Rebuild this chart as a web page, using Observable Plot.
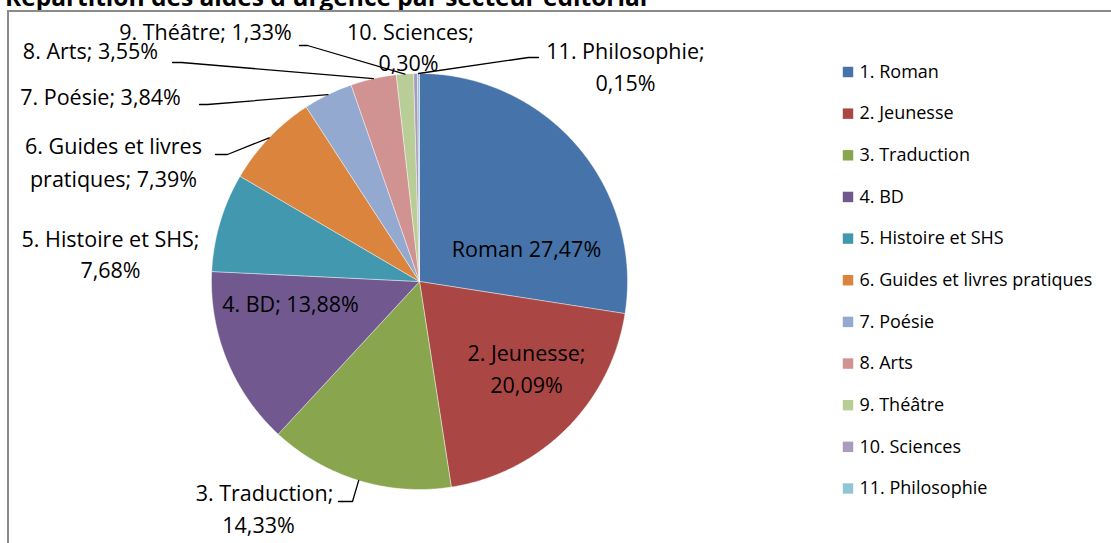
<!DOCTYPE html>
<html><head><meta charset="utf-8">
<script src="https://cdn.jsdelivr.net/npm/d3@7"></script>
<script src="https://cdn.jsdelivr.net/npm/@observablehq/plot@0.6"></script>
<style>
html,body{margin:0;padding:0;background:#fff;overflow:hidden}
#wrap{position:relative;width:1111px;height:543px;overflow:hidden}
#title{position:absolute;left:5px;top:-20px;font:bold 24.5px "Open Sans";line-height:normal;white-space:nowrap;color:#000}
#frame{position:absolute;left:7px;top:10px;width:1200px;height:600px;border-left:2px solid #8a8a8a;border-top:2px solid #8a8a8a}
#chart{position:absolute;left:0;top:0}
</style></head><body>
<div id="wrap"><div id="title">Répartition des aides d'urgence par secteur éditorial</div><div id="frame"></div><div id="chart"></div></div>
<script>
// ---- data ----
const categories = ["1. Roman","2. Jeunesse","3. Traduction","4. BD","5. Histoire et SHS","6. Guides et livres pratiques","7. Poésie","8. Arts","9. Théâtre","10. Sciences","11. Philosophie"];
const shares = [27.47,20.09,14.33,13.88,7.68,7.39,3.84,3.55,1.33,0.30,0.15];
const colors = ["#4673aa","#aa4744","#89a54e","#71588f","#4198af","#db843d","#93a9cf","#d19392","#b9cd96","#a99bbd","#92c5d4"];
// data label lines per slice
const labelLines = [
  ["Roman 27,47%"],
  ["2. Jeunesse;","20,09%"],
  ["3. Traduction;","14,33%"],
  ["4. BD; 13,88%"],
  ["5. Histoire et SHS;","7,68%"],
  ["6. Guides et livres","pratiques; 7,39%"],
  ["7. Poésie; 3,84%"],
  ["8. Arts; 3,55%"],
  ["9. Théâtre; 1,33%"],
  ["10. Sciences;","0,30%"],
  ["11. Philosophie;","0,15%"]
];

// ---- layout ----
const W = 1111, H = 543;
const CX = 419, CY = 281, R = 208;
const FONT = "Open Sans";
// label line centres (layout only)
const labelPos = [
  [[526,250]],
  [[526,354],[526,386]],
  [[264,494],[258,526]],
  [[290,305]],
  [[110,240],[110,271]],
  [[113,147],[113,180]],
  [[100,98]],
  [[90,52]],
  [[205,33]],
  [[410,33],[408,64]],
  [[625,52],[625,84]]
];
// leader line start points (label side), end is computed on the slice edge
const leaderStart = {2:[[338,501],[352,501]],5:[[215,154],[227,154]],6:[[199,104],[207,104]],7:[[172,62],[181,62]],8:[[299,45],[307,45]],10:[[538,57],[528,57]]};
const LEG_X = 847.5, LEG_Y0 = 71.5, LEG_DY = 41.65, LEG_TX = 859;

// ---- geometry from data ----
const arcs = d3.pie().sort(null).value(d => d)(shares);
const pt = (a, r) => [CX + r * Math.sin(a), CY - r * Math.cos(a)];
const slicePts = [];
arcs.forEach((a, i) => {
  const cat = categories[i];
  const n = Math.max(2, Math.ceil((a.endAngle - a.startAngle) / (Math.PI / 360)));
  slicePts.push({cat, x: CX, y: CY});
  for (let k = 0; k <= n; k++) {
    const [x, y] = pt(a.startAngle + (a.endAngle - a.startAngle) * k / n, R);
    slicePts.push({cat, x, y});
  }
  slicePts.push({cat, x: CX, y: CY});
});
const leaderPts = [];
Object.entries(leaderStart).forEach(([i, pts]) => {
  const a = arcs[+i];
  pts.forEach(([x, y]) => leaderPts.push({id: i, x, y}));
  const [x, y] = pt((a.startAngle + a.endAngle) / 2, R);
  leaderPts.push({id: i, x, y});
});
const labelRows = [];
labelLines.forEach((lines, i) => lines.forEach((t, j) => labelRows.push({text: t, x: labelPos[i][j][0], y: labelPos[i][j][1]})));

const chart = Plot.plot({
  width: W, height: H,
  margin: 0,
  x: {domain: [0, W], range: [0, W], axis: null},
  y: {domain: [0, H], range: [0, H], axis: null},
  color: {domain: categories, range: colors},
  style: {fontFamily: FONT, background: "transparent", overflow: "visible"},
  marks: [
    Plot.line(slicePts, {x: "x", y: "y", z: "cat", fill: "cat", stroke: "#ffffff", strokeWidth: 0.6, strokeOpacity: 0.7, curve: "linear"}),
    Plot.line(leaderPts, {x: "x", y: "y", z: "id", stroke: "#000", strokeWidth: 1.3}),
    Plot.text(labelRows, {x: "x", y: "y", text: "text", fontSize: 21.5, fill: "#000", fontFamily: FONT}),
    Plot.dot(categories, {x: () => LEG_X, y: (d, i) => LEG_Y0 + i * LEG_DY, symbol: "square", r: 5.9, fill: d => d, stroke: null}),
    Plot.text(categories, {x: () => LEG_TX, y: (d, i) => LEG_Y0 + i * LEG_DY, text: d => d, textAnchor: "start", fontSize: 18, fill: "#000", fontFamily: FONT})
  ]
});
document.getElementById("chart").appendChild(chart);
</script></body></html>
